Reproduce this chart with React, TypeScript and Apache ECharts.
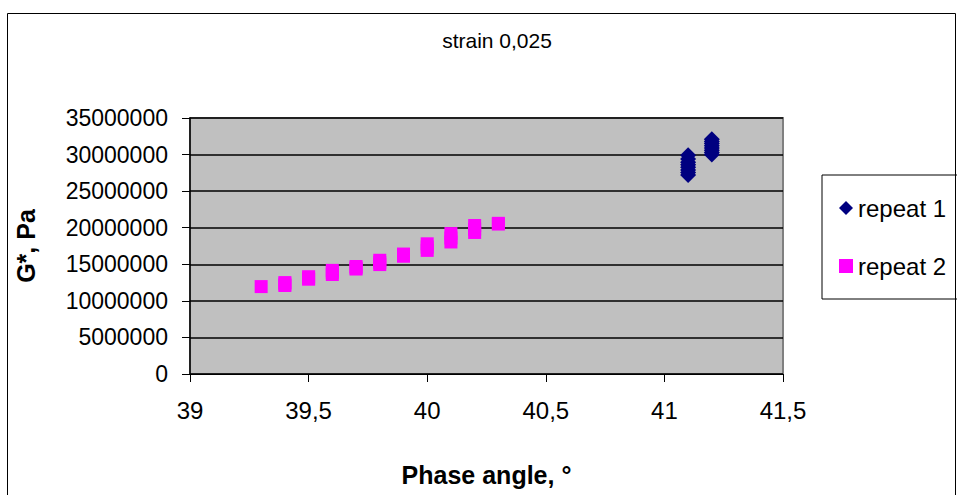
import React, { useEffect, useRef } from "react";
import * as echarts from "echarts";

const titleText = "strain 0,025";
const xAxisName = "Phase angle, °";
const yAxisName = "G*, Pa";
const seriesNames = ["repeat 1", "repeat 2"];

// repeat 1: phase angle (°), G* (Pa)
const repeat1X = [
  41.1, 41.1, 41.1, 41.1, 41.1, 41.1, 41.1, 41.1,
  41.2, 41.2, 41.2, 41.2, 41.2, 41.2, 41.2, 41.2,
];
const repeat1Y = [
  27200000, 27550000, 27900000, 28250000, 28600000, 28950000, 29400000, 29900000,
  30000000, 30300000, 30600000, 30900000, 31200000, 31500000, 31800000, 32100000,
];

// repeat 2
const repeat2X = [
  39.3,
  39.4, 39.4, 39.4,
  39.5, 39.5, 39.5,
  39.6, 39.6, 39.6,
  39.7, 39.7, 39.7,
  39.8, 39.8, 39.8,
  39.9, 39.9, 39.9,
  40.0, 40.0, 40.0,
  40.1, 40.1, 40.1,
  40.2, 40.2, 40.2,
  40.3, 40.3,
];
const repeat2Y = [
  11950000,
  12100000, 12300000, 12500000,
  12960000, 13100000, 13300000,
  13600000, 13900000, 14170000,
  14350000, 14500000, 14700000,
  14960000, 15250000, 15550000,
  16100000, 16250000, 16400000,
  16900000, 17350000, 17800000,
  18050000, 18600000, 19200000,
  19350000, 19800000, 20300000,
  20500000, 20600000,
];

const xMin = 39;
const xMax = 41.5;
const xInterval = 0.5;
const yMin = 0;
const yMax = 35000000;
const yInterval = 5000000;

const FONT = "Arial, 'Liberation Sans', sans-serif";

export default function App() {
  const ref = useRef<HTMLDivElement>(null);
  useEffect(() => {
    if (!ref.current) return;
    const chart = echarts.init(ref.current, null, { renderer: "svg" });
    const d1 = repeat1X.map((x, i) => [x, repeat1Y[i]]);
    const d2 = repeat2X.map((x, i) => [x, repeat2Y[i]]);
    chart.setOption({
      animation: false,
      backgroundColor: "#ffffff",
      textStyle: { fontFamily: FONT },
      title: {
        text: titleText,
        left: 492,
        top: 25,
        textAlign: "center",
        textStyle: { fontFamily: FONT, fontSize: 21, fontWeight: "normal", color: "#000" },
      },
      graphic: [
        {
          type: "rect",
          shape: { x: 7.5, y: 13.5, width: 948, height: 500 },
          style: { fill: "none", stroke: "#000", lineWidth: 1 },
          silent: true,
          z: -1,
        },
      ],
      legend: {
        orient: "vertical",
        left: 822,
        top: 175,
        padding: [21, 20, 21, 17],
        itemGap: 34,
        itemWidth: 14,
        itemHeight: 14,
        borderColor: "#000",
        borderWidth: 1,
        textStyle: { fontFamily: FONT, fontSize: 24, color: "#000" },
        data: [
          { name: seriesNames[0], icon: "diamond" },
          { name: seriesNames[1], icon: "rect" },
        ],
      },
      grid: {
        left: 190,
        right: 174,
        top: 118,
        bottom: 121,
        containLabel: false,
        outerBoundsMode: "none",
        show: true,
        backgroundColor: "#c0c0c0",
        borderColor: "#808080",
        borderWidth: 2,
      },
      xAxis: {
        type: "value",
        min: xMin,
        max: xMax,
        interval: xInterval,
        name: xAxisName,
        nameLocation: "middle",
        nameGap: 88,
        nameTextStyle: { fontFamily: FONT, fontSize: 25, fontWeight: "bold", color: "#000" },
        axisLine: { show: true, onZero: false, lineStyle: { color: "#000", width: 1 } },
        axisTick: { show: true, inside: false, length: 8, lineStyle: { color: "#000" } },
        axisLabel: {
          margin: 24,
          fontFamily: FONT,
          fontSize: 24,
          color: "#000",
          formatter: (v: number) => String(v).replace(".", ","),
        },
        splitLine: { show: false },
      },
      yAxis: {
        type: "value",
        min: yMin,
        max: yMax,
        interval: yInterval,
        name: yAxisName,
        nameLocation: "middle",
        nameGap: 152,
        nameRotate: 90,
        nameTextStyle: { fontFamily: FONT, fontSize: 25, fontWeight: "bold", color: "#000" },
        axisLine: { show: true, lineStyle: { color: "#000", width: 1.5 } },
        axisTick: { show: true, inside: false, length: 8, lineStyle: { color: "#000" } },
        axisLabel: {
          margin: 22,
          fontFamily: FONT,
          fontSize: 23,
          color: "#000",
          formatter: (v: number) => String(v),
        },
        splitLine: { show: true, lineStyle: { color: "#000", width: 1.5 } },
      },
      series: [
        {
          name: seriesNames[0],
          type: "scatter",
          data: d1,
          symbol: "diamond",
          symbolSize: [16, 16],
          itemStyle: { color: "#000080", opacity: 1 },
        },
        {
          name: seriesNames[1],
          type: "scatter",
          data: d2,
          symbol: "rect",
          symbolSize: [13, 13],
          itemStyle: { color: "#ff00ff", opacity: 1 },
        },
      ],
    });
    return () => chart.dispose();
  }, []);
  return (
    <div
      ref={ref}
      style={{ position: "fixed", left: 0, top: 0, width: 957, height: 495 }}
    />
  );
}
